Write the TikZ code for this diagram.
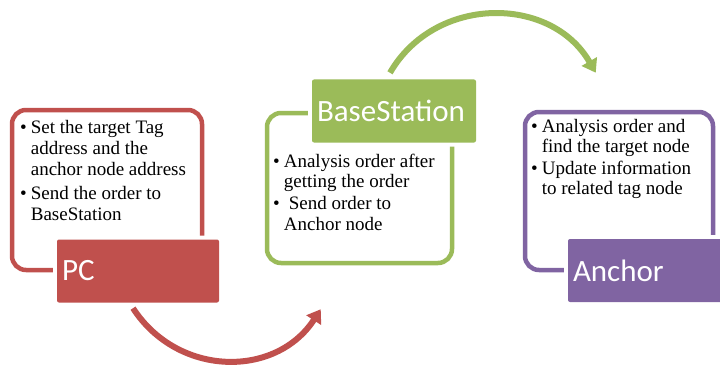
\documentclass[tikz,border=0pt]{standalone}
\usepackage{fontspec}
\setmainfont{Liberation Serif}
\newfontfamily\labelfont{Carlito}
\usetikzlibrary{arrows.meta,calc,positioning}
\definecolor{pcred}{RGB}{192,80,77}
\definecolor{bsgreen}{RGB}{155,187,89}
\definecolor{anpurple}{RGB}{128,100,162}
\newcommand{\steptext}{\fontsize{19}{20.7}\selectfont}

\begin{document}
\begin{tikzpicture}[x=1pt,y=1pt,
  frame/.style={draw=#1, line width=4.5pt, rounded corners=14pt},
  stagebox/.style={fill=#1, rounded corners=2pt, preaction={draw=white,line width=8pt},
    text=white, font=\labelfont\fontsize{31}{33}\selectfont, align=left,
    inner xsep=5pt, inner ysep=0pt, minimum height=63pt},
  bullets/.style={anchor=north west, inner sep=0pt, font=\steptext},
  flow/.style={draw=#1, line width=6pt, -{Triangle[length=13pt,width=17pt]}, looseness=1.12}]
\clip (0,0) rectangle (720,365);
% outlines
\node [frame=pcred, minimum width=190pt, minimum height=160pt] (pcframe) at (107,175) {};
\node [frame=bsgreen, minimum width=185pt, minimum height=150pt] (bsframe) at (359.5,177) {};
\node [frame=anpurple, minimum width=188pt, minimum height=158pt] (anframe) at (619,174) {};
% bullet texts
\node [bullets] (pctext) at (20,246) {\begin{tabular}{@{}l@{\hspace{4pt}}l@{}}
\textbullet & Set the target Tag\\
 & address and the\\
 & anchor node address\\[4pt]
\textbullet & Send the order to\\
 & BaseStation
\end{tabular}};
\node [bullets] (bstext) at (273,212.5) {\begin{tabular}{@{}l@{\hspace{4pt}}l@{}}
\textbullet & Analysis order after\\
 & getting the order\\[1pt]
\textbullet & \hspace{5pt}Send order to\\
 & Anchor node
\end{tabular}};
\node [bullets] (antext) at (531,247.5) {\begin{tabular}{@{}l@{\hspace{4pt}}l@{}}
\textbullet & Analysis order and\\
 & find the target node\\[0.5pt]
\textbullet & Update information\\
 & to related tag node
\end{tabular}};
% stage labels
\node [stagebox=pcred, text width=152pt] (pc) at (138,94) {PC};
\node [stagebox=bsgreen, text width=154pt] (bs) at (394,254) {BaseStation};
\node [stagebox=anpurple, text width=152pt] (an) at (649,94.5) {Anchor};
% flow arrows
\coordinate (redstart) at ($(pc.south)+(-5,-5.5)$);
\coordinate (redend) at ($(bsframe.south west)+(56,-44)$);
\coordinate (greenstart) at ($(bs.north)+(-4,6.5)$);
\coordinate (greenend) at ($(anframe.north west)+(73,37)$);
\draw [flow=pcred] (redstart) to[out=-57,in=-123] (redend);
\draw [flow=bsgreen] (greenstart) to[out=60,in=120] (greenend);
\end{tikzpicture}
\end{document}
